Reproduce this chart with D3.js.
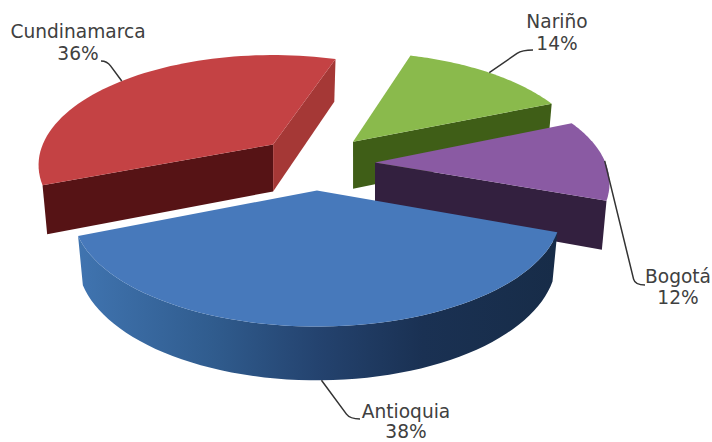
<!DOCTYPE html>
<html>
<head>
<meta charset="utf-8">
<script src="https://cdn.jsdelivr.net/npm/d3@7"></script>
<style>
  html, body { margin: 0; padding: 0; background: #fff; }
  svg { display: block; }
  text { font-family: "DejaVu Sans", sans-serif; font-size: 18.6px; fill: #404040; text-anchor: middle; }
</style>
</head>
<body>
<svg id="chart" width="712" height="442"></svg>
<script>
// Regional shares, in percent
const regions = ["Antioquia", "Cundinamarca", "Nariño", "Bogotá"];
const shares = [38, 36, 14, 12];

// Fills per region: top face, wall on the slice's leading cut, wall on its trailing cut
const topFills = ["#4779bb", "#c44244", "#8aba4c", "#8a5aa3"];
const leadWalls = ["#1c3556", "#561315", "#3f5e17", "#33203f"];
const trailWalls = ["#1c3556", "#a53836", "#3f5e17", "#33203f"];

// Label placement: label centre, first baseline, elbow and end of the leader line
const labelX = [406, 78, 557, 678];
const labelY = [418, 38, 28, 283];
const lineGap = [19.5, 22, 22, 21];
const elbows = [[350, 419], [107, 61], [522, 50], [635, 285]];
const leaderEnds = [[360, 419], [101, 61], [533, 50], [645, 285]];

// Small per-slice corrections: rotation in degrees, apex shift in pixels
const turnDeg = [0, 1.5, 0, -1];
const apexShift = [[-1, 0], [-1, 0], [-3, -1], [0, 0]];

// Perspective view of the pie
const view = {
  cx: 317, cy: 163,         // pie centre on screen
  explodeX: 58, explodeY: 27.5,
  rx: 240, ry: 110.6, persp: 0.187,
  backScale: 0.96,          // slices behind the front one sit a little farther away
  drop: 47, baseX: 0.98, baseY: 1.05
};

const svg = d3.select("#chart");

const gradient = svg.append("defs").append("linearGradient")
  .attr("id", "blueRim").attr("gradientUnits", "userSpaceOnUse")
  .attr("x1", 78).attr("x2", 556).attr("y1", 0).attr("y2", 0);
[[0, "#4074b0"], [0.28, "#305c8e"], [0.5, "#24436f"], [0.72, "#1a3153"], [1, "#172c48"]]
  .forEach(([o, c]) => gradient.append("stop").attr("offset", o).attr("stop-color", c));

const pie = d3.pie().sort(null).startAngle(110.7 * Math.PI / 180).endAngle((110.7 + 360) * Math.PI / 180);
const arcs = pie(shares);
const unit = a => [Math.sin(a), -Math.cos(a)];
const xOffset = d3.scaleLinear().domain([-1, 1]).range([-view.explodeX, view.explodeX]);
const yOffset = d3.scaleLinear().domain([-1, 1]).range([-view.explodeY, view.explodeY]);

const slices = arcs.map((d, i) => {
  const turn = turnDeg[i] * Math.PI / 180;
  const start = d.startAngle + turn;
  const end = d.endAngle + turn;
  const mid = (d.startAngle + d.endAngle) / 2;
  const [mu, mv] = unit(mid);
  const apex = [view.cx + xOffset(mu) + apexShift[i][0], view.cy + yOffset(mv) + apexShift[i][1]];
  const front = mv > 0.5;
  const scale = front ? 1 : view.backScale;
  // top-face point at angle a, relative to the apex
  const top = a => {
    const [u, v] = unit(a);
    const w = 1 - view.persp * v;
    return [view.rx * scale * u / w, view.ry * scale * v / w];
  };
  const toScreen = p => [apex[0] + p[0], apex[1] + p[1]];
  const toBase = p => [apex[0] + p[0] * view.baseX, apex[1] + view.drop + p[1] * view.baseY];
  const angles = d3.range(0, 61).map(k => start + (end - start) * k / 60);
  return { i, mid, mv, front, apex, top, toScreen, toBase, angles };
});

const line = d3.line();

// Rear slices first, so the nearest slice paints over the others
d3.sort(slices, s => s.mv).forEach(s => {
  const g = svg.append("g");
  const rimTop = s.angles.map(a => s.top(a));
  const visible = pts => d3.polygonArea(pts) > 0;

  // Flat cut walls
  const first = rimTop[0];
  const last = rimTop[60];
  const lead = [s.apex, s.toScreen(first), s.toBase(first), s.toBase([0, 0])];
  const trail = [s.toScreen(last), s.apex, s.toBase([0, 0]), s.toBase(last)];
  if (visible(lead)) g.append("path").attr("d", line(lead) + "Z").attr("fill", leadWalls[s.i]);
  if (visible(trail)) g.append("path").attr("d", line(trail) + "Z").attr("fill", trailWalls[s.i]);

  // Curved outer wall of the front slice
  if (s.front) {
    const outline = rimTop.map(s.toScreen).concat(rimTop.slice().reverse().map(s.toBase));
    g.append("path").attr("d", line(outline) + "Z").attr("fill", "url(#blueRim)");
  }

  // Top face
  const face = [s.apex].concat(rimTop.map(s.toScreen));
  g.append("path").attr("d", line(face) + "Z").attr("fill", topFills[s.i]);
});

// Leader lines run from the rim at each slice's mid-angle to its label
slices.forEach(s => {
  const rim = s.top(s.mid);
  const from = s.front ? s.toBase(rim) : s.toScreen(rim);
  const [ex, ey] = elbows[s.i];
  const [tx, ty] = leaderEnds[s.i];
  const len = Math.hypot(from[0] - ex, from[1] - ey);
  const bend = 6 / len;
  const p = d3.path();
  p.moveTo(from[0], from[1]);
  p.lineTo(ex + (from[0] - ex) * bend, ey + (from[1] - ey) * bend);
  p.quadraticCurveTo(ex, ey, tx, ty);
  svg.append("path").attr("d", p.toString()).attr("fill", "none")
    .attr("stroke", "#333").attr("stroke-width", 1.5);
});

// Labels
regions.forEach((name, i) => {
  svg.append("text").attr("x", labelX[i]).attr("y", labelY[i]).text(name);
  svg.append("text").attr("x", labelX[i]).attr("y", labelY[i] + lineGap[i]).text(shares[i] + "%");
});
</script>
</body>
</html>
